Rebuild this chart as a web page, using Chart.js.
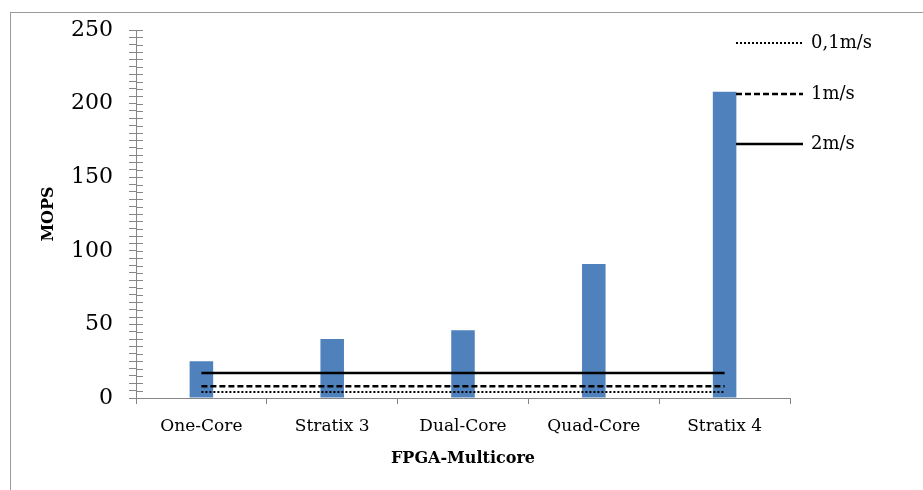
<!DOCTYPE html>
<html>
<head>
<meta charset="utf-8">
<script src="https://cdn.jsdelivr.net/npm/chart.js@4.4.0/dist/chart.umd.min.js"></script>
<style>
  html, body { margin: 0; padding: 0; background: #fff; }
  #wrap { width: 923px; height: 490px; }
</style>
</head>
<body>
<div id="wrap"><canvas id="graph" width="923" height="490"></canvas></div>
<script>
// values
const categories = ['One-Core', 'Stratix 3', 'Dual-Core', 'Quad-Core', 'Stratix 4']
const mops = [25, 40, 46, 91, 208]
const speed01 = [4, 4, 4, 4, 4]     // 0,1m/s
const speed1 = [8, 8, 8, 8, 8]      // 1m/s
const speed2 = [17, 17, 17, 17, 17] // 2m/s
const yTickLabels = [0, 50, 100, 150, 200, 250]

const axisGray = '#868686'
const serif = '"DejaVu Serif", "Liberation Serif", serif'

// frame around the chart + inner half of y ticks + legend on the right
const extras = {
  id: 'extras',
  beforeDraw(chart) {
    const ctx = chart.ctx
    ctx.save()
    ctx.strokeStyle = '#9a9a9a'
    ctx.lineWidth = 1
    ctx.strokeRect(10.5, 12.5, 1000, 1000)
    ctx.restore()
  },
  afterDraw(chart) {
    const ctx = chart.ctx
    const y = chart.scales.y
    ctx.save()
    ctx.strokeStyle = axisGray
    ctx.lineWidth = 1
    y.ticks.forEach(t => {
      const py = Math.round(y.getPixelForValue(t.value)) + 0.5
      ctx.beginPath()
      ctx.moveTo(y.right, py)
      ctx.lineTo(y.right + 7, py)
      ctx.stroke()
    })
    // legend
    const legendRows = [43, 94, 144]
    ctx.font = '18px ' + serif
    ctx.textBaseline = 'middle'
    ctx.fillStyle = '#000'
    chart.data.datasets.slice(1).forEach((ds, i) => {
      const ly = legendRows[i]
      ctx.strokeStyle = ds.borderColor
      ctx.lineWidth = ds.borderWidth
      ctx.setLineDash(ds.borderDash || [])
      ctx.beginPath()
      ctx.moveTo(736, ly)
      ctx.lineTo(803, ly)
      ctx.stroke()
      ctx.setLineDash([])
      ctx.fillText(ds.label, 811, ly)
    })
    ctx.restore()
  }
}

const cfg = {
  type: 'bar',
  data: {
    labels: categories,
    datasets: [
      {
        type: 'bar',
        label: 'MOPS',
        data: mops,
        backgroundColor: '#4F81BD',
        borderWidth: 0,
        barPercentage: 0.18,
        categoryPercentage: 1,
        order: 5
      },
      {
        type: 'line',
        label: '0,1m/s',
        data: speed01,
        borderColor: '#000',
        borderWidth: 2,
        borderDash: [2, 2],
        pointRadius: 0,
        fill: false,
        order: 1
      },
      {
        type: 'line',
        label: '1m/s',
        data: speed1,
        borderColor: '#000',
        borderWidth: 2.5,
        borderDash: [6, 3],
        pointRadius: 0,
        fill: false,
        order: 1
      },
      {
        type: 'line',
        label: '2m/s',
        data: speed2,
        borderColor: '#000',
        borderWidth: 2.5,
        pointRadius: 0,
        fill: false,
        order: 1
      }
    ]
  },
  options: {
    responsive: false,
    animation: false,
    layout: { padding: { top: 30, right: 133, bottom: 0, left: 0 } },
    plugins: {
      legend: { display: false },
      tooltip: { enabled: false }
    },
    scales: {
      x: {
        grid: { display: true, drawOnChartArea: false, drawTicks: true, tickLength: 6, color: axisGray, offset: true },
        border: { display: true, color: axisGray, width: 1 },
        ticks: { color: '#000', font: { family: serif, size: 17 }, padding: 12, maxRotation: 0 },
        title: { display: true, text: 'FPGA-Multicore', color: '#000', font: { family: serif, size: 16, weight: 'bold' }, padding: { top: 4, bottom: 22 } },
        afterFit(scale) { scale.height = 92 }
      },
      y: {
        min: 0,
        max: 250,
        grid: { display: true, drawOnChartArea: false, drawTicks: true, tickLength: 7, color: axisGray },
        border: { display: true, color: axisGray, width: 1 },
        ticks: {
          stepSize: 5,
          autoSkip: false,
          color: '#000',
          font: { family: serif, size: 22 },
          padding: 16,
          callback: v => yTickLabels.includes(v) ? String(v) : ''
        },
        title: { display: true, text: 'MOPS', color: '#000', font: { family: serif, size: 16, weight: 'bold' }, padding: { top: 39, bottom: 0 } },
        afterFit(scale) { scale.width = 136 }
      }
    }
  },
  plugins: [extras]
}

new Chart(document.querySelector('#graph'), cfg)
</script>
</body>
</html>
